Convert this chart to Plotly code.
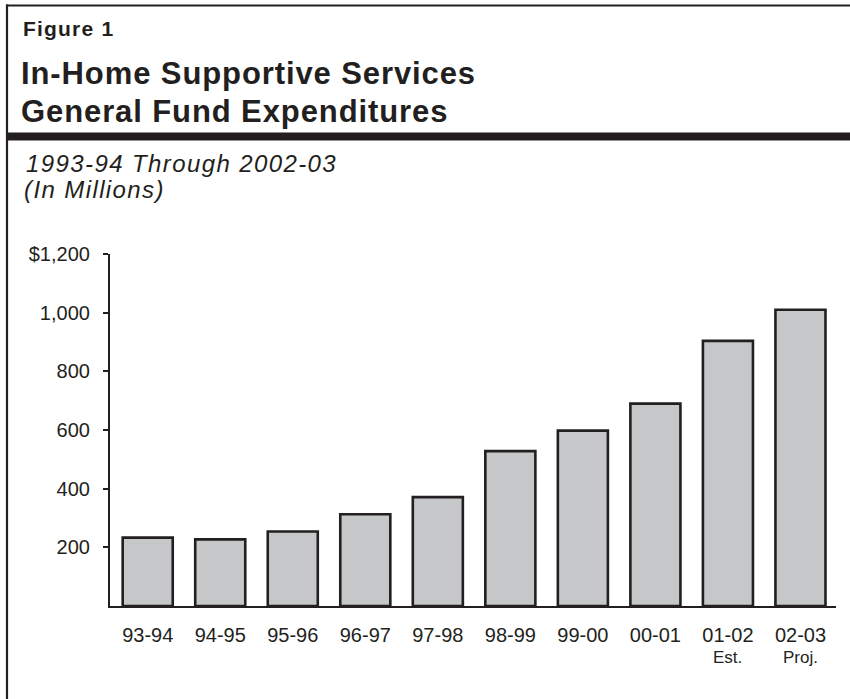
import plotly.graph_objects as go

categories = ["93-94", "94-95", "95-96", "96-97", "97-98", "98-99", "99-00", "00-01", "01-02", "02-03"]
sub_labels = {"01-02": "Est.", "02-03": "Proj."}
values = [233, 227, 254, 313, 371, 528, 598, 690, 904, 1010]
ytick_vals = [200, 400, 600, 800, 1000, 1200]
ytick_text = ["200", "400", "600", "800", "1,000", "$1,200"]

W, H = 850, 699
L, R, T, B = 110, 14, 254, 93
PW, PH = W - L - R, H - T - B
INK = "#231f20"
FONT = "Liberation Sans, Arial, Helvetica, sans-serif"


def px(x):
    return (x - L) / PW


def py(y):
    return (H - B - y) / PH


fig = go.Figure()
fig.add_trace(go.Bar(
    x=categories, y=values, width=0.69,
    marker=dict(color="#c6c7c9", line=dict(color=INK, width=2.6)),
    hoverinfo="x+y",
))

shapes = [
    dict(type="line", xref="paper", yref="paper", x0=px(6), x1=px(851), y0=py(5.5), y1=py(5.5),
         line=dict(color=INK, width=2.2)),
    dict(type="line", xref="paper", yref="paper", x0=px(7), x1=px(7), y0=py(4.5), y1=py(700),
         line=dict(color=INK, width=2.2)),
    dict(type="rect", xref="paper", yref="paper", x0=px(6), x1=px(851), y0=py(132.5), y1=py(140.5),
         fillcolor=INK, line=dict(width=0)),
]

def ann(text, x, y, size, bold=False, italic=False, spacing=0):
    t = text
    if spacing:
        t = f"<span style='letter-spacing:{spacing}px'>{t}</span>"
    if bold:
        t = f"<b>{t}</b>"
    if italic:
        t = f"<i>{t}</i>"
    return dict(text=t, xref="paper", yref="paper", x=px(x), y=py(y), xanchor="left", yanchor="middle",
                showarrow=False, font=dict(family=FONT, size=size, color=INK))

annotations = [
    ann("Figure 1", 21, 28, 21, bold=True, spacing=1.2),
    ann("In-Home Supportive Services", 19, 73, 31, bold=True, spacing=0.9),
    ann("General Fund Expenditures", 19, 111, 31, bold=True, spacing=0.9),
    ann("1993-94 Through 2002-03", 24, 163, 24, italic=True, spacing=1.4),
    ann("(In Millions)", 22, 190, 24, italic=True, spacing=1.4),
]
for cat, lab in sub_labels.items():
    annotations.append(dict(text=lab, xref="x", yref="paper", x=cat, y=py(657), xanchor="center",
                            yanchor="middle", showarrow=False,
                            font=dict(family=FONT, size=17, color=INK)))

fig.update_layout(
    width=W, height=H,
    margin=dict(l=L, r=R, t=T, b=B, pad=0),
    paper_bgcolor="white", plot_bgcolor="white",
    showlegend=False,
    shapes=shapes,
    annotations=annotations,
    font=dict(family=FONT, color=INK),
    xaxis=dict(
        type="category", range=[-0.52, 9.49],
        tickmode="array", tickvals=categories, ticktext=categories,
        ticks="", showline=True, linecolor=INK, linewidth=2.2,
        showgrid=False, zeroline=False,
        tickfont=dict(family=FONT, size=20, color=INK),
        ticklabelstandoff=10,
    ),
    yaxis=dict(
        range=[0, 1200],
        tickmode="array", tickvals=ytick_vals, ticktext=ytick_text,
        ticks="outside", ticklen=5, tickwidth=2, tickcolor=INK,
        showline=True, linecolor=INK, linewidth=2.2,
        showgrid=False, zeroline=False,
        tickfont=dict(family=FONT, size=20, color=INK),
        ticklabelstandoff=9,
    ),
)

fig.write_html("out.html")
